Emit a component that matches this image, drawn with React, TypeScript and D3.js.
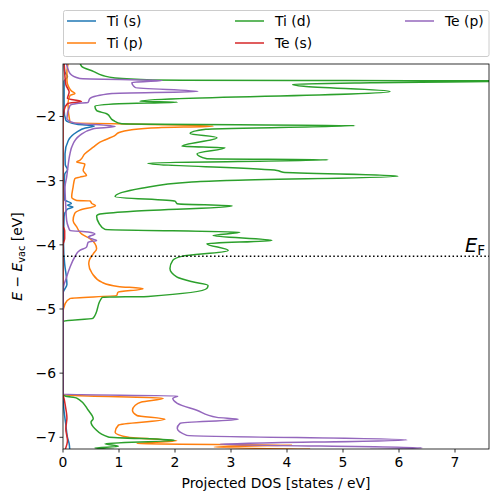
import React from 'react';
import * as d3 from 'd3';

// Each series: [energy (eV), projected DOS (states / eV)]
const tiS: [number, number][] = [
  [-1.15, 0.02], [-1.3, 0.03], [-1.38, 0.08], [-1.45, 0.02], [-1.9, 0.02], [-2.06, 0.05],
  [-2.12, 0.25], [-2.15, 0.56], [-2.18, 0.4], [-2.245, 0.245], [-2.374, 0.095], [-2.58, 0.036],
  [-2.75, 0.04], [-2.83, 0.08], [-2.9, 0.03], [-3.1, 0.02], [-3.3, 0.03], [-3.355, 0.15],
  [-3.385, 0.08], [-3.41, 0.18], [-3.45, 0.07], [-3.56, 0.02], [-4.0, 0.01], [-4.3, 0.03],
  [-4.5, 0.06], [-4.62, 0.07], [-4.75, 0.0], [-6.33, 0.0], [-6.6, 0.02], [-6.8, 0.05],
  [-7.0, 0.08], [-7.1, 0.11], [-7.19, 0.12],
];

const tiP: [number, number][] = [
  [-1.15, 0.09], [-1.174, 0.089], [-1.3, 0.07], [-1.439, 0.071], [-1.595, 0.143], [-1.642, 0.214],
  [-1.673, 0.125], [-1.798, 0.089], [-2.093, 0.125], [-2.151, 2.68], [-2.175, 1.7], [-2.21, 1.2],
  [-2.25, 1.0], [-2.296, 0.93], [-2.4, 0.66], [-2.478, 0.54], [-2.58, 0.39], [-2.685, 0.3],
  [-2.71, 0.245], [-2.74, 0.39], [-2.84, 0.36], [-2.92, 0.42], [-2.945, 0.3], [-2.97, 0.21],
  [-3.1, 0.18], [-3.255, 0.155], [-3.31, 0.245], [-3.315, 0.48], [-3.36, 0.52], [-3.39, 0.58],
  [-3.46, 0.3], [-3.51, 0.21], [-3.62, 0.18], [-3.72, 0.245], [-3.83, 0.33], [-3.905, 0.48],
  [-4.06, 0.6], [-4.14, 0.54], [-4.24, 0.47], [-4.3, 0.46], [-4.445, 0.52], [-4.586, 0.7],
  [-4.648, 0.98], [-4.685, 1.43], [-4.741, 0.98], [-4.788, 0.96], [-4.835, 0.13], [-4.913, 0.04],
  [-5.069, 0.0], [-6.33, 0.0], [-6.35, 0.2], [-6.39, 1.79], [-6.45, 1.4], [-6.5, 1.29],
  [-6.58, 1.24], [-6.66, 1.32], [-6.72, 1.82], [-6.81, 0.99], [-6.92, 0.93], [-7.0, 1.17],
  [-7.055, 2.03], [-7.1, 1.32], [-7.12, 4.1], [-7.15, 2.7], [-7.187, 4.4],
];

const tiD: [number, number][] = [
  [-1.15, 0.3], [-1.221, 0.335], [-1.3, 0.55], [-1.361, 0.71], [-1.4, 0.93], [-1.43, 1.6],
  [-1.445, 8.5], [-1.475, 5.5], [-1.5, 4.1], [-1.53, 4.3], [-1.611, 5.84], [-1.762, 1.375],
  [-1.777, 2.04], [-1.8, 1.0], [-1.84, 0.57], [-1.907, 0.6], [-1.958, 0.78], [-2.062, 0.9],
  [-2.114, 1.05], [-2.142, 5.21], [-2.2, 2.55], [-2.265, 2.27], [-2.33, 2.75], [-2.463, 2.125],
  [-2.488, 2.893], [-2.582, 2.393], [-2.66, 2.571], [-2.675, 4.73], [-2.727, 1.518],
  [-2.841, 3.821], [-2.868, 3.929], [-2.93, 5.98], [-2.997, 2.93], [-3.02, 2.3], [-3.12, 1.4],
  [-3.25, 0.93], [-3.32, 2.0], [-3.36, 2.04], [-3.395, 3.02], [-3.48, 1.2], [-3.52, 0.66],
  [-3.55, 0.6], [-3.66, 0.64], [-3.76, 0.75], [-3.805, 3.16], [-3.854, 2.68], [-3.931, 3.73],
  [-3.983, 2.57], [-4.087, 2.95], [-4.18, 2.12], [-4.243, 1.96], [-4.37, 1.91], [-4.5, 2.03],
  [-4.58, 2.33], [-4.632, 2.59], [-4.679, 2.57], [-4.804, 1.52], [-4.819, 0.7], [-5.146, 0.536],
  [-5.193, 0.0], [-6.33, 0.0], [-6.357, 0.04], [-6.388, 0.245], [-6.579, 0.452], [-6.71, 0.54],
  [-6.762, 0.5], [-6.866, 0.571], [-6.995, 0.81], [-7.047, 2.0], [-7.1, 0.75], [-7.14, 0.99],
  [-7.166, 0.57], [-7.19, 0.9],
];

const teS: [number, number][] = [
  [-1.15, 0.02], [-1.5, 0.05], [-1.62, 0.11], [-1.72, 0.08], [-1.765, 0.33], [-1.8, 0.08],
  [-1.9, 0.02], [-2.1, 0.0], [-3.7, 0.0], [-3.78, 0.03], [-3.9, 0.03], [-4.0, 0.0],
  [-6.33, 0.0], [-6.4, 0.02], [-6.5, 0.04], [-6.7, 0.07], [-6.87, 0.05], [-7.05, 0.08],
  [-7.19, 0.04],
];

const teP: [number, number][] = [
  [-1.15, 0.05], [-1.206, 0.07], [-1.33, 0.125], [-1.408, 0.3], [-1.44, 1.77], [-1.47, 1.23],
  [-1.548, 1.29], [-1.611, 2.41], [-1.642, 0.875], [-1.72, 0.48], [-1.782, 0.446], [-1.798, 0.25],
  [-1.829, 0.125], [-2.031, 0.07], [-2.1, 0.2], [-2.156, 0.93], [-2.19, 0.54], [-2.296, 0.3],
  [-2.478, 0.155], [-2.58, 0.125], [-2.945, 0.065], [-3.1, 0.036], [-3.4, 0.05], [-3.62, 0.065],
  [-3.72, 0.095], [-3.776, 0.125], [-3.8, 0.45], [-3.83, 0.57], [-3.88, 0.45], [-3.905, 0.51],
  [-3.931, 0.6], [-3.96, 0.45], [-4.035, 0.42], [-4.087, 0.3], [-4.19, 0.21], [-4.35, 0.125],
  [-4.5, 0.065], [-4.71, 0.0], [-6.33, 0.0], [-6.355, 2.05], [-6.393, 1.96], [-6.47, 2.04],
  [-6.579, 2.39], [-6.689, 2.75], [-6.72, 3.13], [-6.782, 2.09], [-6.86, 2.04], [-6.969, 2.21],
  [-7.04, 6.14], [-7.109, 2.8], [-7.165, 6.41], [-7.19, 5.5],
];

const seriesNames = ['Ti (s)', 'Ti (p)', 'Ti (d)', 'Te (s)', 'Te (p)'];
const seriesColors = ['#1f77b4', '#ff7f0e', '#2ca02c', '#d62728', '#9467bd'];
const seriesData = [tiS, tiP, tiD, teS, teP];

const xTicks = [0, 1, 2, 3, 4, 5, 6, 7];
const yTicks = [-7, -6, -5, -4, -3, -2];
const fermiLevel = -4.18;
const xDomain: [number, number] = [0, 7.607];
const yDomain: [number, number] = [-7.182, -1.182];

const FONT = "'DejaVu Sans', sans-serif";
const FS = 13.9;

export default function App() {
  const W = 498;
  const H = 502;
  const L = 63, R = 489, T = 64, B = 449;
  const x = d3.scaleLinear().domain(xDomain).range([L, R]);
  const y = d3.scaleLinear().domain(yDomain).range([B, T]);
  const line = d3
    .line<[number, number]>()
    .x((d) => x(d[1]))
    .y((d) => y(d[0]))
    .curve(d3.curveMonotoneY);

  const legendCols = [67, 235, 405];
  const legendRows = [21, 43];
  const legendPos = [
    [0, 0], [0, 1], [1, 0], [1, 1], [2, 0],
  ];

  return (
    <svg
      width={W}
      height={H}
      style={{ position: 'absolute', left: 0, top: 0, background: '#fff' }}
      fontFamily={FONT}
    >
      <rect x={0} y={0} width={W} height={H} fill="#fff" />
      <defs>
        <clipPath id="plotclip">
          <rect x={L} y={T} width={R - L} height={B - T} />
        </clipPath>
      </defs>
      <g clipPath="url(#plotclip)">
        {seriesData.map((d, i) => (
          <path
            key={seriesNames[i]}
            d={line(d) || ''}
            fill="none"
            stroke={seriesColors[i]}
            strokeWidth={1.5}
            strokeLinejoin="round"
            strokeLinecap="square"
          />
        ))}
        <line
          x1={L}
          x2={R}
          y1={y(fermiLevel)}
          y2={y(fermiLevel)}
          stroke="#000"
          strokeWidth={1.5}
          strokeDasharray="1.5 2.475"
        />
      </g>
      <text x={465} y={y(fermiLevel) - 4} fontSize={19.4} fill="#000">
        <tspan fontStyle="italic">E</tspan>
        <tspan fontSize={13.6} dy={3}>F</tspan>
      </text>
      {/* axes frame */}
      <rect x={L} y={T} width={R - L} height={B - T} fill="none" stroke="#000" strokeWidth={0.8} />
      {/* x ticks */}
      {xTicks.map((t) => (
        <g key={'x' + t}>
          <line x1={x(t)} x2={x(t)} y1={B} y2={B + 3.5} stroke="#000" strokeWidth={0.8} />
          <text x={x(t)} y={B + 17.5} fontSize={FS} textAnchor="middle" fill="#000">
            {String(t)}
          </text>
        </g>
      ))}
      {/* y ticks */}
      {yTicks.map((t) => (
        <g key={'y' + t}>
          <line x1={L - 3.5} x2={L} y1={y(t)} y2={y(t)} stroke="#000" strokeWidth={0.8} />
          <text x={L - 7} y={y(t) + 5} fontSize={FS} textAnchor="end" fill="#000">
            {'\u2212' + Math.abs(t)}
          </text>
        </g>
      ))}
      <text x={(L + R) / 2} y={488} fontSize={FS} textAnchor="middle" fill="#000">
        Projected DOS [states / eV]
      </text>
      <text
        transform={`translate(22,${(T + B) / 2}) rotate(-90)`}
        fontSize={FS}
        textAnchor="middle"
        fill="#000"
      >
        <tspan fontStyle="italic">E</tspan>
        <tspan>{' \u2212 '}</tspan>
        <tspan fontStyle="italic">E</tspan>
        <tspan fontSize={9.7} dy={2.5}>vac</tspan>
        <tspan dy={-2.5}>{' [eV]'}</tspan>
      </text>
      {/* legend */}
      <rect
        x={63.5}
        y={10.5}
        width={425.5}
        height={46}
        rx={2}
        fill="#fff"
        fillOpacity={0.8}
        stroke="#cccccc"
        strokeWidth={1}
      />
      {seriesNames.map((name, i) => {
        const [c, r] = legendPos[i];
        const lx = legendCols[c];
        const ly = legendRows[r];
        return (
          <g key={'leg' + name}>
            <line x1={lx} x2={lx + 29} y1={ly} y2={ly} stroke={seriesColors[i]} strokeWidth={1.5} />
            <text x={lx + 40} y={ly + 5} fontSize={FS} fill="#000">
              {name}
            </text>
          </g>
        );
      })}
    </svg>
  );
}
